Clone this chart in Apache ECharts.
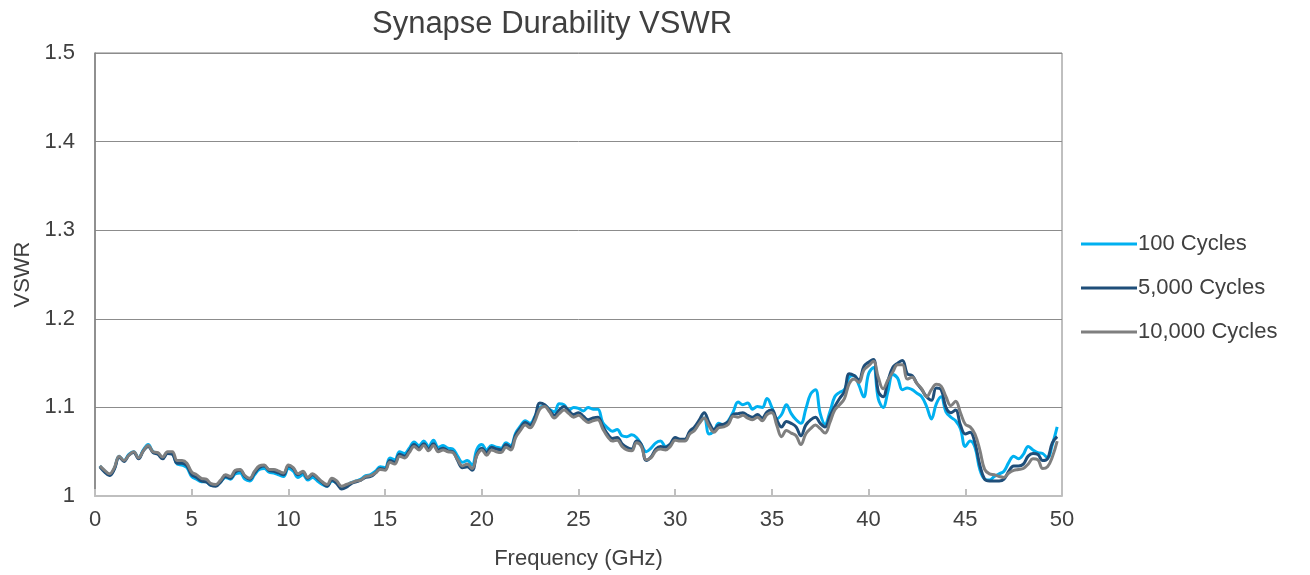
<!DOCTYPE html>
<html>
<head>
<meta charset="utf-8">
<script src="https://cdn.jsdelivr.net/npm/echarts@6/dist/echarts.min.js"></script>
<style>html,body{margin:0;padding:0;background:#fff}#c{width:1310px;height:575px}</style>
</head>
<body>
<div id="c"></div>
<script>
// Frequency grid (GHz), 0.25 .. 49.75 step 0.25
const freq = [];
for (let i = 1; i <= 199; i++) freq.push(i * 0.25);

const seriesNames = ['100 Cycles', '5,000 Cycles', '10,000 Cycles'];
const xTicks = [0, 5, 10, 15, 20, 25, 30, 35, 40, 45, 50];
const yTicks = [1, 1.1, 1.2, 1.3, 1.4, 1.5];

const cycles10000 = [
1.034,1.029,1.025,1.032,1.045,1.040,1.046,1.050,1.043,1.051,1.057,1.050,1.049,1.044,1.050,1.050,
1.040,1.040,1.037,1.027,1.024,1.020,1.019,1.014,1.013,1.018,1.024,1.022,1.029,1.030,1.023,1.020,
1.028,1.034,1.035,1.030,1.030,1.028,1.026,1.035,1.032,1.025,1.028,1.021,1.025,1.021,1.016,1.013,
1.020,1.017,1.011,1.013,1.015,1.017,1.018,1.022,1.023,1.026,1.030,1.029,1.038,1.036,1.045,1.043,
1.049,1.056,1.052,1.057,1.051,1.057,1.050,1.052,1.050,1.049,1.041,1.034,1.036,1.031,1.046,1.052,
1.046,1.052,1.050,1.049,1.055,1.052,1.066,1.074,1.080,1.077,1.085,1.098,1.101,1.095,1.088,1.093,
1.097,1.093,1.089,1.091,1.087,1.083,1.085,1.086,1.076,1.067,1.062,1.063,1.056,1.052,1.051,1.060,
1.056,1.041,1.043,1.051,1.053,1.052,1.056,1.063,1.062,1.062,1.070,1.074,1.082,1.088,1.079,1.072,
1.077,1.078,1.081,1.090,1.089,1.091,1.088,1.086,1.089,1.085,1.092,1.094,1.080,1.067,1.074,1.071,
1.068,1.058,1.070,1.076,1.080,1.076,1.071,1.083,1.097,1.103,1.110,1.127,1.132,1.128,1.142,1.147,
1.152,1.134,1.121,1.131,1.140,1.148,1.148,1.132,1.134,1.127,1.121,1.112,1.120,1.126,1.124,1.112,
1.102,1.107,1.094,1.081,1.078,1.070,1.052,1.030,1.025,1.024,1.022,1.021,1.026,1.029,1.030,1.031,
1.036,1.042,1.041,1.031,1.033,1.044,1.062
];

const cycles5000 = [
1.033,1.027,1.023,1.030,1.044,1.039,1.046,1.049,1.042,1.051,1.056,1.049,1.047,1.042,1.048,1.047,
1.037,1.037,1.034,1.024,1.021,1.017,1.016,1.012,1.011,1.016,1.022,1.020,1.027,1.029,1.022,1.019,
1.026,1.032,1.034,1.029,1.028,1.026,1.024,1.034,1.031,1.024,1.027,1.020,1.024,1.020,1.015,1.011,
1.018,1.014,1.008,1.010,1.014,1.016,1.018,1.021,1.022,1.026,1.031,1.030,1.040,1.038,1.047,1.045,
1.051,1.058,1.054,1.059,1.053,1.059,1.052,1.054,1.051,1.050,1.040,1.032,1.033,1.029,1.047,1.054,
1.049,1.055,1.053,1.052,1.058,1.055,1.069,1.077,1.083,1.080,1.089,1.105,1.103,1.097,1.091,1.097,
1.101,1.096,1.092,1.094,1.090,1.086,1.088,1.089,1.079,1.070,1.065,1.066,1.059,1.055,1.053,1.062,
1.058,1.040,1.044,1.053,1.056,1.055,1.059,1.066,1.064,1.064,1.073,1.078,1.086,1.094,1.083,1.075,
1.080,1.081,1.084,1.092,1.093,1.094,1.091,1.089,1.092,1.088,1.095,1.097,1.086,1.078,1.084,1.082,
1.078,1.068,1.080,1.086,1.089,1.082,1.078,1.090,1.101,1.110,1.118,1.138,1.136,1.131,1.146,1.151,
1.154,1.118,1.112,1.130,1.145,1.150,1.153,1.138,1.136,1.127,1.120,1.112,1.108,1.122,1.120,1.100,
1.094,1.097,1.080,1.070,1.072,1.060,1.035,1.019,1.017,1.017,1.017,1.019,1.028,1.034,1.034,1.036,
1.045,1.048,1.047,1.040,1.042,1.060,1.067
];

const cycles100 = [
1.034,1.028,1.024,1.031,1.045,1.040,1.047,1.050,1.043,1.052,1.058,1.050,1.048,1.043,1.049,1.048,
1.036,1.035,1.032,1.022,1.019,1.016,1.016,1.012,1.012,1.016,1.021,1.019,1.025,1.026,1.019,1.017,
1.024,1.030,1.031,1.027,1.026,1.024,1.022,1.031,1.028,1.021,1.024,1.018,1.021,1.017,1.013,1.011,
1.017,1.015,1.010,1.012,1.015,1.017,1.019,1.023,1.024,1.028,1.033,1.032,1.043,1.041,1.050,1.048,
1.054,1.061,1.057,1.062,1.056,1.063,1.055,1.057,1.054,1.053,1.045,1.038,1.040,1.035,1.053,1.058,
1.052,1.057,1.055,1.054,1.060,1.057,1.071,1.079,1.085,1.082,1.090,1.100,1.102,1.098,1.095,1.104,
1.103,1.097,1.100,1.099,1.096,1.100,1.098,1.098,1.083,1.077,1.073,1.075,1.068,1.067,1.069,1.066,
1.058,1.050,1.054,1.060,1.062,1.056,1.058,1.064,1.063,1.063,1.071,1.075,1.083,1.088,1.070,1.073,
1.082,1.080,1.085,1.095,1.106,1.103,1.105,1.098,1.101,1.100,1.110,1.100,1.087,1.092,1.103,1.093,
1.086,1.082,1.098,1.115,1.120,1.093,1.081,1.095,1.112,1.117,1.120,1.134,1.136,1.125,1.112,1.138,
1.145,1.110,1.100,1.118,1.137,1.133,1.120,1.122,1.120,1.116,1.112,1.101,1.087,1.104,1.112,1.095,
1.089,1.085,1.076,1.056,1.062,1.055,1.030,1.019,1.018,1.022,1.025,1.028,1.038,1.045,1.042,1.047,
1.056,1.052,1.049,1.048,1.043,1.058,1.078
];

const colors = ['#00B0F0', '#1F4E79', '#7F7F7F'];
const allValues = [cycles100, cycles5000, cycles10000];

const chart = echarts.init(document.getElementById('c'), null, {renderer: 'canvas'});
const txt = '#404040';
const font = 'Arial, "Liberation Sans", sans-serif';

chart.setOption({
  animation: false,
  backgroundColor: '#fff',
  textStyle: {fontFamily: font},
  title: {
    text: 'Synapse Durability VSWR',
    left: 547, top: 4, textAlign: 'center',
    textStyle: {fontSize: 31, fontWeight: 'normal', color: txt, fontFamily: font}
  },
  grid: {left: 95, right: 248, top: 53, bottom: 75, show: true, borderColor: '#808080', borderWidth: 1},
  legend: {
    orient: 'vertical', left: 1076, top: 228,
    itemWidth: 56, itemHeight: 3, itemGap: 22,
    icon: 'rect',
    textStyle: {fontSize: 22, color: txt, fontFamily: font, padding: [0, 0, 0, -4]},
    data: seriesNames
  },
  xAxis: {
    type: 'value', min: xTicks[0], max: xTicks[xTicks.length - 1], interval: 5,
    name: 'Frequency (GHz)', nameLocation: 'middle', nameGap: 52,
    nameTextStyle: {fontSize: 22, color: txt, fontFamily: font},
    axisLine: {show: true, lineStyle: {color: '#BFBFBF', width: 2}},
    axisTick: {show: true, inside: true, length: 7, lineStyle: {color: '#BFBFBF', width: 2}},
    axisLabel: {fontSize: 22, color: txt, margin: 13, fontFamily: font},
    splitLine: {show: false}
  },
  yAxis: {
    type: 'value', min: yTicks[0], max: yTicks[yTicks.length - 1], interval: 0.1,
    name: 'VSWR', nameLocation: 'middle', nameGap: 58, nameRotate: 90,
    nameTextStyle: {fontSize: 22, color: txt, fontFamily: font},
    axisLine: {show: true, lineStyle: {color: '#808080', width: 1.5}},
    axisTick: {show: false},
    axisLabel: {fontSize: 22, color: txt, margin: 20, fontFamily: font,
      formatter: v => (Math.abs(v - 1) < 1e-9 ? '1' : v.toFixed(1))},
    splitLine: {show: true, lineStyle: {color: '#8C8C8C', width: 1}}
  },
  series: seriesNames.map((n, k) => ({
    name: n, type: 'line', showSymbol: false, symbol: 'none', smooth: 0.4,
    lineStyle: {width: 3, color: colors[k]}, itemStyle: {color: colors[k]},
    data: freq.map((f, i) => [f, allValues[k][i]])
  }))
});
</script>
</body>
</html>
